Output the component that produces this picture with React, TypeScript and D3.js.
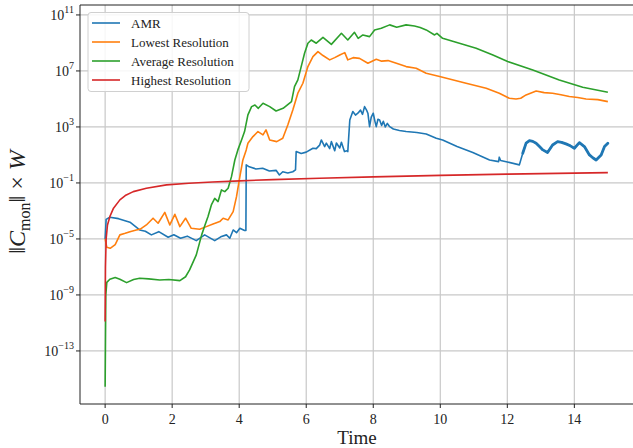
import React from "react";
import * as d3 from "d3";

const amrT = [0,0.03,0.14,0.4,0.74,1.03,1.2,1.38,1.6,1.88,2.05,2.25,2.45,2.72,2.97,3.27,3.45,3.62,3.72,3.82,3.92,4.02,4.16,4.2,4.21,4.3,4.5,4.7,4.9,5.1,5.2,5.3,5.45,5.6,5.68,5.7,5.85,6.0,6.2,6.3,6.4,6.45,6.55,6.6,6.7,6.75,6.85,6.9,7.0,7.05,7.14,7.22,7.24,7.3,7.39,7.47,7.54,7.62,7.68,7.74,7.8,7.84,7.89,7.94,8.0,8.05,8.09,8.14,8.19,8.25,8.3,8.36,8.42,8.49,8.6,8.78,8.98,9.3,9.58,9.88,10.07,10.5,10.97,11.47,11.74,11.76,11.8,12.0,12.36,12.46,12.56,12.66,12.76,12.86,12.96,13.06,13.2,13.35,13.5,13.62,13.75,13.88,14.0,14.15,14.3,14.45,14.55,14.65,14.8,14.9,15.0];
const amrLog = [-5.0,-3.6,-3.45,-3.55,-3.8,-4.36,-4.45,-4.71,-4.48,-4.88,-4.7,-4.95,-4.8,-5.12,-4.71,-5.12,-4.85,-4.71,-4.95,-4.36,-4.55,-4.24,-4.4,-4.4,0.29,0.15,0.0,0.05,-0.15,-0.1,-0.43,-0.2,-0.29,-0.2,-0.07,1.24,1.1,1.2,1.48,1.45,1.7,2.07,1.6,1.84,1.45,1.95,1.3,1.85,1.5,1.9,1.24,1.3,1.24,3.5,4.1,3.85,3.98,4.2,3.9,4.45,4.2,3.98,3.02,3.7,3.98,3.4,3.02,3.55,3.5,3.1,3.4,3.0,3.25,3.02,2.85,2.75,2.67,2.6,2.5,2.19,2.07,1.6,1.17,0.64,0.52,0.84,0.6,0.5,0.29,1.12,1.84,2.02,1.97,1.84,1.6,1.36,1.17,1.71,1.95,1.9,1.79,1.65,1.48,1.88,1.6,1.0,0.8,0.64,1.0,1.6,1.84];

const lowT = [0,0.05,0.15,0.3,0.44,0.6,0.74,0.93,1.05,1.23,1.43,1.58,1.78,1.93,2.08,2.23,2.4,2.57,2.82,3.02,3.22,3.42,3.52,3.67,3.82,3.92,4.02,4.11,4.21,4.26,4.41,4.56,4.71,4.8,4.91,5.12,5.3,5.45,5.6,5.75,5.9,6.05,6.2,6.35,6.5,6.7,6.85,7.0,7.15,7.24,7.4,7.59,7.84,8.09,8.25,8.44,8.69,8.98,9.28,9.58,9.98,10.77,11.37,11.76,12.06,12.26,12.4,12.56,12.86,13.1,13.35,13.6,13.85,14.1,14.35,14.7,15.0];
const lowLog = [-5.0,-5.6,-5.67,-5.4,-4.71,-4.6,-4.48,-4.36,-4.3,-4.0,-3.52,-3.88,-3.1,-4.0,-3.24,-4.12,-3.52,-4.24,-4.31,-4.12,-3.93,-3.76,-3.52,-3.64,-3.05,-1.98,-0.55,0.64,1.36,1.83,2.31,2.67,2.43,2.79,2.07,1.95,2.19,3.14,4.21,5.41,6.12,7.31,8.02,8.38,8.1,7.79,7.95,8.14,8.31,7.79,7.95,7.9,7.55,7.83,7.7,7.74,7.55,7.31,7.19,6.83,6.6,6.12,5.76,5.41,5.05,5.0,5.05,5.29,5.57,5.45,5.41,5.3,5.17,5.1,5.0,4.95,4.81];

const avgT = [0,0.02,0.05,0.14,0.3,0.44,0.64,0.85,1.03,1.3,1.63,1.9,2.23,2.4,2.52,2.72,2.88,2.98,3.07,3.17,3.27,3.37,3.47,3.57,3.67,3.77,3.87,3.96,4.07,4.16,4.26,4.37,4.47,4.57,4.71,4.91,5.1,5.31,5.56,5.65,5.75,5.85,5.95,6.05,6.15,6.3,6.5,6.75,7.05,7.24,7.44,7.55,7.69,7.89,8.04,8.24,8.49,8.7,8.98,9.23,9.4,9.58,9.83,9.9,10.07,10.57,11.07,11.57,12.01,12.76,13.55,14.25,15.0];
const avgLog = [-15.55,-9.0,-8.1,-7.88,-7.75,-7.88,-8.12,-7.9,-7.81,-7.85,-7.93,-7.9,-7.98,-7.7,-7.21,-6.14,-4.71,-4.0,-3.4,-2.57,-2.1,-2.33,-1.5,-1.62,-1.38,-0.55,0.64,1.36,2.07,2.67,3.86,4.45,4.57,4.33,4.69,4.45,4.14,4.33,4.81,5.88,6.36,7.31,8.26,8.98,9.21,8.98,9.4,8.9,9.69,9.21,9.76,9.33,9.57,9.45,9.93,10.05,10.29,10.12,10.29,10.21,10.1,9.93,9.57,9.69,9.33,8.98,8.62,8.14,7.67,7.07,6.36,5.83,5.48];

const highT = [0,0.01,0.03,0.07,0.14,0.25,0.44,0.6,0.84,1.23,1.83,2.5,3.2,4.02,5.0,6.4,8,10,12,14,15];
const highLog = [-10.9,-7,-5,-4.0,-3.41,-2.8,-2.21,-1.9,-1.62,-1.38,-1.14,-1.02,-0.93,-0.85,-0.76,-0.67,-0.57,-0.46,-0.37,-0.3,-0.26];

const seriesNames = ["AMR", "Lowest Resolution", "Average Resolution", "Highest Resolution"];
const seriesColors = ["#1f77b4", "#ff7f0e", "#2ca02c", "#d62728"];
const xTicks = [0, 2, 4, 6, 8, 10, 12, 14];
const yTickExps = [11, 7, 3, -1, -5, -9, -13];

const W = 633, H = 448;
const M = { left: 80, right: 633, top: 5, bottom: 404 };
const FONT = "'Liberation Serif', 'DejaVu Serif', serif";

export default function App() {
  const x = d3.scaleLinear().domain([-0.75, 15.75]).range([M.left, M.right]);
  const y = d3.scaleLog().domain([Math.pow(10, -16.79), Math.pow(10, 11.71)]).range([M.bottom, M.top]);
  const line = d3.line<[number, number]>().x(d => x(d[0])).y(d => y(Math.pow(10, d[1])));
  const data: [number, number][][] = [
    amrT.map((t, i) => [t, amrLog[i]]),
    lowT.map((t, i) => [t, lowLog[i]]),
    avgT.map((t, i) => [t, avgLog[i]]),
    highT.map((t, i) => [t, highLog[i]]),
  ];
  const amrTail = data[0].filter(d => d[0] >= 12.4);
  return (
    <svg width={W} height={H} style={{ position: "absolute", left: 0, top: 0, fontFamily: FONT }}>
      <defs>
        <clipPath id="plot"><rect x={M.left} y={M.top} width={M.right - M.left} height={M.bottom - M.top} /></clipPath>
      </defs>
      <rect x={0} y={0} width={W} height={H} fill="#fff" />
      {xTicks.map(t => (
        <line key={"gx" + t} x1={x(t)} x2={x(t)} y1={M.top} y2={M.bottom} stroke="#c8c8c8" strokeWidth={1.2} />
      ))}
      {yTickExps.map(e => (
        <line key={"gy" + e} x1={M.left} x2={M.right} y1={y(Math.pow(10, e))} y2={y(Math.pow(10, e))} stroke="#c8c8c8" strokeWidth={1.2} />
      ))}
      <g clipPath="url(#plot)">
        {[0, 1, 2, 3].map(i => (
          <path key={i} d={line(data[i]) || ""} fill="none" stroke={seriesColors[i]} strokeWidth={1.6} strokeLinejoin="round" />
        ))}
        <path d={line(amrTail) || ""} fill="none" stroke={seriesColors[0]} strokeWidth={2.8} strokeLinejoin="round" strokeLinecap="round" />
      </g>
      <line x1={M.left} x2={M.right} y1={M.top} y2={M.top} stroke="#222" strokeWidth={1} />
      <line x1={M.left} x2={M.right} y1={M.bottom} y2={M.bottom} stroke="#222" strokeWidth={1} />
      <line x1={M.left} x2={M.left} y1={M.top} y2={M.bottom} stroke="#222" strokeWidth={1} />
      {xTicks.map(t => (
        <g key={"xt" + t}>
          <line x1={x(t)} x2={x(t)} y1={M.bottom} y2={M.bottom + 4} stroke="#222" />
          <text x={x(t)} y={M.bottom + 20} textAnchor="middle" fontSize={14} fill="#222">{t}</text>
        </g>
      ))}
      {yTickExps.map(e => (
        <g key={"yt" + e}>
          <line x1={M.left - 4} x2={M.left} y1={y(Math.pow(10, e))} y2={y(Math.pow(10, e))} stroke="#222" />
          <text x={M.left - 6} y={y(Math.pow(10, e)) + 5} textAnchor="end" fontSize={14} fill="#222">
            10<tspan dy={-7} fontSize={10}>{e < 0 ? "\u2212" + Math.abs(e) : String(e)}</tspan>
          </text>
        </g>
      ))}
      <text x={357} y={444} textAnchor="middle" fontSize={19} fill="#222">Time</text>
      <text transform="translate(25,202) rotate(-90)" textAnchor="middle" fontSize={24} fill="#222">
        {"\u2016"}<tspan fontStyle="italic">C</tspan><tspan fontSize={16} dy={5}>mon</tspan><tspan dy={-5}>{"\u2016 \u00d7 "}</tspan><tspan fontStyle="italic">W</tspan>
      </text>
      <g>
        <rect x={88} y={12.5} width={161} height={79} rx={3} fill="#fff" fillOpacity={0.85} stroke="#d0d0d0" />
        {seriesNames.map((n, i) => (
          <g key={n}>
            <line x1={92} x2={120} y1={23 + i * 19} y2={23 + i * 19} stroke={seriesColors[i]} strokeWidth={1.6} />
            <text x={131} y={27.5 + i * 19} fontSize={13} fill="#222">{n}</text>
          </g>
        ))}
      </g>
    </svg>
  );
}
